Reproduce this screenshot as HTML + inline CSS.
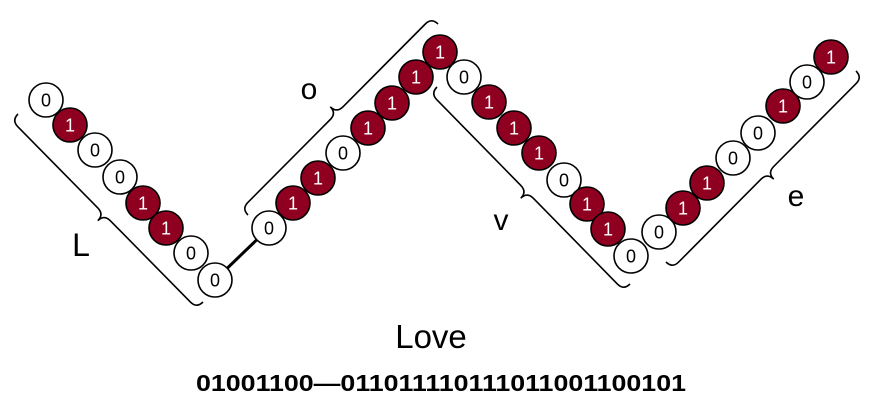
<!DOCTYPE html>
<html><head><style>
body{margin:0;background:#fff;width:874px;height:404px;overflow:hidden}
svg{display:block}
text{font-family:"Liberation Sans",Arial,sans-serif}
</style></head><body>
<svg id="s" width="874" height="404" xmlns="http://www.w3.org/2000/svg">
<line x1="215" y1="280" x2="269" y2="228" stroke="#000" stroke-width="3"/>
<g id="braces" fill="none" stroke="#000" stroke-width="1.6"></g>
<g id="beads"></g>
<text x="81" y="256" font-size="32" text-anchor="middle">L</text>
<text x="309" y="99" font-size="30" text-anchor="middle">o</text>
<text x="501" y="230" font-size="30" text-anchor="middle">v</text>
<text x="796" y="206" font-size="30" text-anchor="middle">e</text>
<text x="431" y="348" font-size="33" text-anchor="middle">Love</text>
<text x="196" y="391" font-size="23" font-weight="bold" textLength="490" lengthAdjust="spacingAndGlyphs">01001100—011011110111011001100101</text>
</svg>
<script>
var NS="http://www.w3.org/2000/svg";
var beads=[
[46,100,0],[70,125,1],[95,150,0],[120,177,0],[143,203,1],[166,228,1],[191,253,0],[215,280,0],
[269,228,0],[293,203,1],[318,178,1],[343,153,0],[368,128,1],[392,103,1],[416,77,1],[440,52,1],
[464,77,0],[489,102,1],[514,128,1],[539,153,1],[564,180,0],[587,204,1],[608,229,1],[631,256,0],
[659,232,0],[683,208,1],[707,183,1],[733,158,0],[758,133,0],[783,106,1],[807,82,0],[831,57,1]];
var g=document.getElementById("beads");
beads.forEach(function(b){
 var c=document.createElementNS(NS,"circle");
 c.setAttribute("cx",b[0]);c.setAttribute("cy",b[1]);c.setAttribute("r",17);
 c.setAttribute("fill",b[2]?"#8f0020":"#fff");c.setAttribute("stroke","#000");c.setAttribute("stroke-width","1.6");
 g.appendChild(c);
 var t=document.createElementNS(NS,"text");
 t.setAttribute("x",b[0]);t.setAttribute("y",b[1]+6.5);t.setAttribute("font-size","18");
 t.setAttribute("text-anchor","middle");t.setAttribute("fill",b[2]?"#fff":"#000");
 t.textContent=b[2]?"1":"0";g.appendChild(t);
});
function brace(a,b,n){
 var dx=b[0]-a[0],dy=b[1]-a[1],L=Math.hypot(dx,dy),u=[dx/L,dy/L],q=9;
 var m=[(a[0]+b[0])/2,(a[1]+b[1])/2];
 function p(o,su,sn){return (o[0]+u[0]*su+n[0]*sn).toFixed(1)+","+(o[1]+u[1]*su+n[1]*sn).toFixed(1);}
 var d="M"+p(a,0,0)+" Q"+p(a,0,q)+" "+p(a,q,q)+" L"+p(m,-q,q)+" Q"+p(m,0,q)+" "+p(m,0,2*q)+
 " Q"+p(m,0,q)+" "+p(m,q,q)+" L"+p(b,-q,q)+" Q"+p(b,0,q)+" "+p(b,0,0);
 var e=document.createElementNS(NS,"path");e.setAttribute("d",d);
 document.getElementById("braces").appendChild(e);
}
var k=0.7071;
brace([18,114],[203,302],[-k,k]);
brace([248,215],[438,24],[-k,-k]);
brace([437,87],[630,284],[-k,k]);
brace([666,262],[856,71],[k,k]);
</script>
</body></html>
